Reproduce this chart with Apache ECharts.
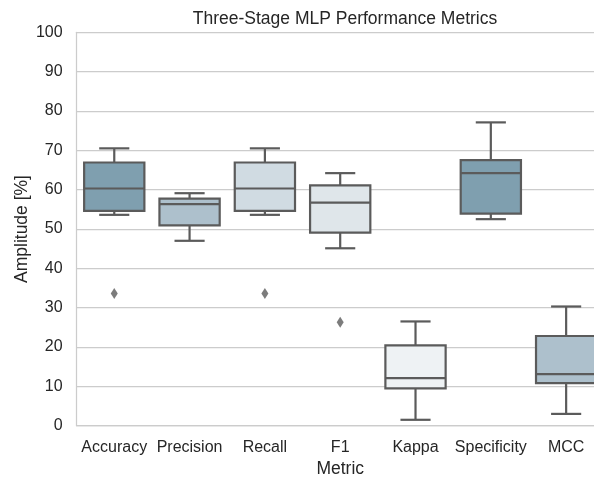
<!DOCTYPE html>
<html>
<head>
<meta charset="utf-8">
<script src="https://cdn.jsdelivr.net/npm/echarts@6/dist/echarts.min.js"></script>
<style>
  html, body { margin: 0; padding: 0; background: #ffffff; }
  #chart { width: 594px; height: 479px; }
</style>
</head>
<body>
<div id="chart"></div>
<script>
// Box statistics per metric (percent)
const categories = ['Accuracy', 'Precision', 'Recall', 'F1', 'Kappa', 'Specificity', 'MCC'];
const whiskerLow  = [53.6, 47.0, 53.6, 45.1,  1.5, 52.5,  3.0];
const quartile1   = [54.6, 50.9, 54.6, 49.1,  9.5, 53.9, 10.8];
const medians     = [60.3, 56.3, 60.3, 56.7, 12.1, 64.2, 13.1];
const quartile3   = [66.9, 57.7, 66.9, 61.1, 20.4, 67.5, 22.8];
const whiskerHigh = [70.5, 59.1, 70.5, 64.2, 26.5, 77.1, 30.3];

// Points beyond the whiskers
const outlierMetric = ['Accuracy', 'Recall', 'F1'];
const outlierValue  = [33.6, 33.6, 26.3];

// Y-axis ticks
const yTicks = [0, 10, 20, 30, 40, 50, 60, 70, 80, 90, 100];

// Box fills, one per metric
const boxFills = ['#7f9faf', '#adc0cc', '#d0dbe2', '#dfe6ea', '#eef2f4', '#7f9faf', '#adc0cc'];
const lineColor = '#5b5b5b';
const textColor = '#262626';
const fontFamily = '"Liberation Sans", Arial, sans-serif';

const boxData = categories.map((c, i) =>
  [i, whiskerLow[i], quartile1[i], medians[i], quartile3[i], whiskerHigh[i]]);
const outlierData = outlierMetric.map((m, k) => [categories.indexOf(m), outlierValue[k]]);

function renderBox(params, api) {
  const idx = api.value(0);
  const band = api.size([1, 0])[0];
  const half = band * 0.4;
  const capHalf = band * 0.2;
  const pLow = api.coord([idx, api.value(1)]);
  const pQ1 = api.coord([idx, api.value(2)]);
  const pMed = api.coord([idx, api.value(3)]);
  const pQ3 = api.coord([idx, api.value(4)]);
  const pHigh = api.coord([idx, api.value(5)]);
  const x = pMed[0];
  const lineStyle = { stroke: lineColor, lineWidth: 2.2, fill: null };
  return {
    type: 'group',
    children: [
      { type: 'line', shape: { x1: x, y1: pQ3[1], x2: x, y2: pHigh[1] }, style: lineStyle },
      { type: 'line', shape: { x1: x, y1: pQ1[1], x2: x, y2: pLow[1] }, style: lineStyle },
      { type: 'line', shape: { x1: x - capHalf, y1: pHigh[1], x2: x + capHalf, y2: pHigh[1] }, style: lineStyle },
      { type: 'line', shape: { x1: x - capHalf, y1: pLow[1], x2: x + capHalf, y2: pLow[1] }, style: lineStyle },
      { type: 'rect', shape: { x: x - half, y: pQ3[1], width: half * 2, height: pQ1[1] - pQ3[1] },
        style: { fill: boxFills[idx], stroke: lineColor, lineWidth: 2.2 } },
      { type: 'line', shape: { x1: x - half, y1: pMed[1], x2: x + half, y2: pMed[1] }, style: lineStyle }
    ]
  };
}

const chart = echarts.init(document.getElementById('chart'), null, { renderer: 'canvas' });
chart.setOption({
  animation: false,
  backgroundColor: '#ffffff',
  textStyle: { fontFamily: fontFamily },
  title: {
    text: 'Three-Stage MLP Performance Metrics',
    left: 340,
    top: 5,
    textAlign: 'center',
    textStyle: { fontFamily: fontFamily, fontSize: 17.5, fontWeight: 'normal', color: textColor }
  },
  grid: { left: 76.6, top: 32.3, width: 527.2, height: 393.4, outerBoundsMode: 'none', containLabel: false },
  xAxis: {
    type: 'category',
    data: categories,
    boundaryGap: true,
    name: 'Metric',
    nameLocation: 'middle',
    nameGap: 34,
    nameMoveOverlap: false,
    nameTextStyle: { fontFamily: fontFamily, fontSize: 17.5, color: textColor },
    axisLine: { show: true, lineStyle: { color: '#cccccc', width: 1.25 } },
    axisTick: { show: false },
    axisLabel: { margin: 14, fontFamily: fontFamily, fontSize: 16, color: textColor, interval: 0 },
    splitLine: { show: false }
  },
  yAxis: {
    type: 'value',
    min: yTicks[0],
    max: yTicks[yTicks.length - 1],
    interval: yTicks[1] - yTicks[0],
    name: 'Amplitude [%]',
    nameLocation: 'middle',
    nameGap: 45.5,
    nameMoveOverlap: false,
    nameTextStyle: { fontFamily: fontFamily, fontSize: 17.5, color: textColor },
    axisLine: { show: true, lineStyle: { color: '#cccccc', width: 1.25 } },
    axisTick: { show: false },
    axisLabel: { margin: 14, fontFamily: fontFamily, fontSize: 16, color: textColor },
    splitLine: { show: true, lineStyle: { color: '#cccccc', width: 1.25 } }
  },
  series: [
    {
      type: 'custom',
      renderItem: renderBox,
      encode: { x: 0, y: [1, 2, 3, 4, 5] },
      data: boxData,
      clip: false,
      z: 3
    },
    {
      type: 'scatter',
      data: outlierData,
      symbol: 'diamond',
      symbolSize: [7, 11],
      itemStyle: { color: lineColor },
      z: 4
    }
  ]
});
</script>
</body>
</html>
